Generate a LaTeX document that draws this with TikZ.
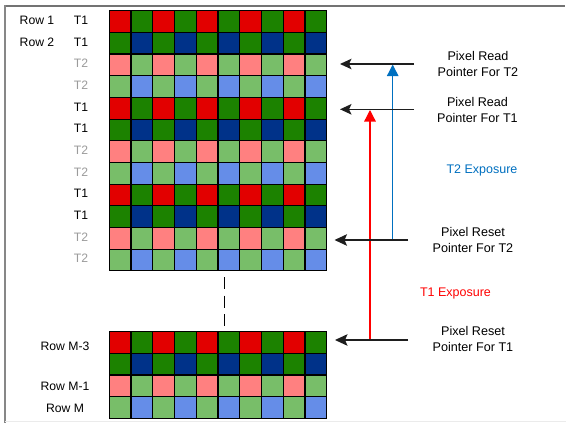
\documentclass[tikz,border=0pt]{standalone}
\usepackage{fontspec}
\setmainfont{Liberation Sans}
\usetikzlibrary{arrows.meta}
\definecolor{cR}{RGB}{226,0,0}
\definecolor{cG}{RGB}{28,130,0}
\definecolor{cB}{RGB}{0,50,137}
\definecolor{cr}{RGB}{255,128,128}
\definecolor{cg}{RGB}{120,190,105}
\definecolor{cb}{RGB}{101,141,232}
\definecolor{oblue}{RGB}{0,112,192}
\definecolor{ored}{RGB}{255,0,0}
\definecolor{tgray}{RGB}{155,155,155}
\definecolor{lineblk}{RGB}{30,30,30}
\newcommand\pixrow[4]{%
  \foreach \c in {0,...,9}{%
    \ifodd\c \def\cc{#4}\else\def\cc{#3}\fi
    \filldraw[fill=\cc,draw=black,line width=1.1pt] ({#1+\c*21.74},{#2}) rectangle ++(21.74,21.67);
  }}
\begin{document}
\begin{tikzpicture}[x=1pt,y=-1pt,
  lbl/.style={font=\fontsize{12.2}{16}\selectfont, inner sep=0pt, anchor=base},
  elbl/.style={font=\fontsize{12.5}{16}\selectfont, inner sep=0pt, anchor=base},
  rlbl/.style={font=\fontsize{12.6}{16}\selectfont, inner sep=0pt, align=center},
  ptr/.style={draw=lineblk, line width=1.4pt, -{Stealth[length=11.5pt,width=10.5pt,inset=2.5pt]}},
  rptr/.style={draw=lineblk, line width=1.4pt, -{Stealth[length=12.5pt,width=11.5pt,inset=2.5pt]}},
  expo/.style={line width=1.3pt, -{Triangle[length=11.5pt,width=11.5pt]}}]
\useasboundingbox (0,0) rectangle (566,423);
\fill[white] (0,0) rectangle (566,423);
% frame
\draw[line width=1.6pt, draw={rgb,255:red,115;green,115;blue,115}] (5,5.8) -- (565,5.8);
\draw[line width=1.5pt, draw={rgb,255:red,135;green,135;blue,135}] (5,5) -- (5,423);
\draw[line width=1pt, draw={rgb,255:red,235;green,235;blue,235}] (5,421.8) -- (566,421.8);
% top grid
\foreach \r in {0,...,11}{%
  \pgfmathtruncatemacro\t{mod(\r,4)}%
  \ifcase\t \def\ea{cR}\def\ob{cG}\or \def\ea{cG}\def\ob{cB}\or \def\ea{cr}\def\ob{cg}\else \def\ea{cg}\def\ob{cb}\fi
  \pixrow{109.3}{10.7+\r*21.67}{\ea}{\ob}
}
% bottom grid
\foreach \r in {0,...,3}{%
  \pgfmathtruncatemacro\t{mod(\r,4)}%
  \ifcase\t \def\ea{cR}\def\ob{cG}\or \def\ea{cG}\def\ob{cB}\or \def\ea{cr}\def\ob{cg}\else \def\ea{cg}\def\ob{cb}\fi
  \pixrow{109.3}{331.7+\r*21.67}{\ea}{\ob}
}
% dashed continuation
\coordinate (dashtop) at (224.3,277);
\coordinate (dashbot) at (224.3,327);
\draw[line width=1.3pt, dash pattern=on 12pt off 6.5pt] (dashtop) -- (dashbot);
% left labels
\node[lbl] (row1) at (37,24.5) {Row 1};
\node[lbl] (row2) at (37,46) {Row 2};
\foreach \r/\tx/\col in {0/T1/black,1/T1/black,2/T2/tgray,3/T2/tgray,4/T1/black,5/T1/black,6/T2/tgray,7/T2/tgray,8/T1/black,9/T1/black,10/T2/tgray,11/T2/tgray}{%
  \node[lbl, text=\col] (tl\r) at (81,{10.7+(\r+0.5)*21.67+3}) {\tx};
}
\node[lbl] (rowm3) at (65,350) {Row M-3};
\node[lbl] (rowm1) at (65,390.3) {Row M-1};
\node[lbl] (rowm) at (65,412.5) {Row M};
% right labels
\node[rlbl] (rdt2) at (478,63.5) {Pixel Read\\Pointer For T2};
\node[rlbl] (rdt1) at (477.5,109.5) {Pixel Read\\Pointer For T1};
\node[rlbl] (rst2) at (473,240.3) {Pixel Reset\\Pointer For T2};
\node[rlbl] (rst1) at (473,338.7) {Pixel Reset\\Pointer For T1};
\node[elbl, text=oblue] (t2exp) at (482,173.3) {T2 Exposure};
\node[elbl, text=ored] (t1exp) at (455.5,296.7) {T1 Exposure};
% pointer coordinates
\coordinate (rdt2tail) at (414,64);
\coordinate (rdt2tip) at (340,64);
\coordinate (rdt1tail) at (414,109.3);
\coordinate (rdt1tip) at (340,109.3);
\coordinate (rst2tail) at (408,240);
\coordinate (rst2tip) at (334.5,240);
\coordinate (rst1tail) at (408,340);
\coordinate (rst1tip) at (335,340);
\coordinate (bluebase) at (392.7,240);
\coordinate (bluetop) at (392.7,64.6);
\coordinate (redbase) at (370,340);
\coordinate (redtop) at (370,110);
% exposure arrows
\draw[expo, draw=oblue, fill=oblue] (bluebase) -- (bluetop);
\draw[expo, draw=ored, fill=ored] (redbase) -- (redtop);
% pointers
\draw[ptr] (rdt2tail) -- (rdt2tip);
\draw[ptr] (rdt1tail) -- (rdt1tip);
\draw[rptr] (rst2tail) -- (rst2tip);
\draw[rptr] (rst1tail) -- (rst1tip);
\end{tikzpicture}
\end{document}
